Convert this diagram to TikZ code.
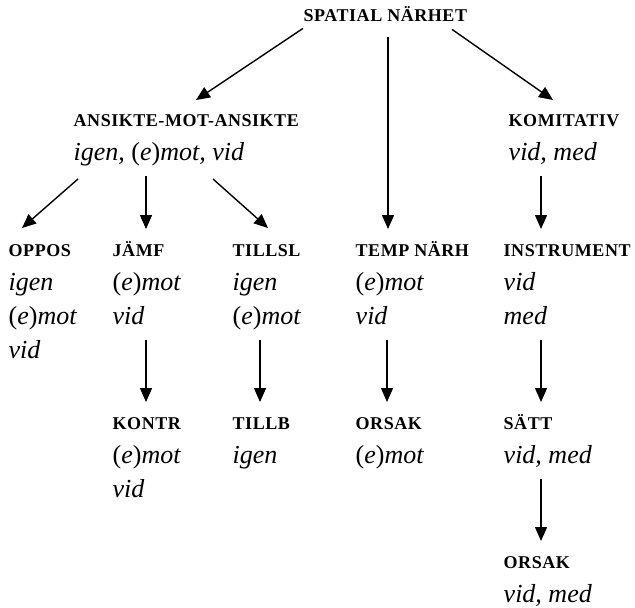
\documentclass[tikz,border=0pt]{standalone}
\usepackage{fontspec}
\setmainfont{Liberation Serif}
\usetikzlibrary{arrows.meta}
\newcommand{\hd}[1]{{\fontsize{9}{17}\selectfont\upshape\bfseries\addfontfeatures{LetterSpace=3}\vphantom{Ä}#1}}
\newcommand{\emot}{\textup{(}e\textup{)}mot}

\begin{document}
\begin{tikzpicture}[x=0.5pt, y=-0.5pt, >={Triangle[length=7pt,width=6pt]}, line width=0.7pt,
	blk/.style={anchor=north west, inner sep=0pt, align=left, text depth=3.5pt, font=\fontsize{13}{17}\selectfont\itshape},
	arr/.style={->, shorten <=4pt, shorten >=6pt}]
	\useasboundingbox (0,0) rectangle (635,607);
	% top
	\node[blk] (spatial) at (303,6) {\hd{SPATIAL NÄRHET}};
	% first row
	\node[blk] (ansikte) at (73,111) {\hd{ANSIKTE-MOT-ANSIKTE}\\ igen, \emot, vid};
	\node[blk] (komit) at (508,111) {\hd{KOMITATIV}\\ vid, med};
	% second row
	\node[blk] (oppos) at (8,241) {\hd{OPPOS}\\ igen\\ \emot\\ vid};
	\node[blk] (jamf) at (112,241) {\hd{JÄMF}\\ \emot\\ vid};
	\node[blk] (tillsl) at (232,241) {\hd{TILLSL}\\ igen\\ \emot};
	\node[blk] (temp) at (355,241) {\hd{TEMP NÄRH}\\ \emot\\ vid};
	\node[blk] (instr) at (503,241) {\hd{INSTRUMENT}\\ vid\\ med};
	% third row
	\node[blk] (kontr) at (112,414) {\hd{KONTR}\\ \emot\\ vid};
	\node[blk] (tillb) at (232,414) {\hd{TILLB}\\ igen};
	\node[blk] (orsak) at (355,414) {\hd{ORSAK}\\ \emot};
	\node[blk] (satt) at (503,414) {\hd{SÄTT}\\ vid, med};
	% last row
	\node[blk] (orsakb) at (503,553) {\hd{ORSAK}\\ vid, med};
	% vertical arrows: source/offset/target/offset (offsets from the west side)
	\foreach \a/\ax/\b/\bx in {spatial/42.5/temp/16.5, ansikte/36.5/jamf/17, komit/16.5/instr/19,
		jamf/17/kontr/17, tillsl/14/tillb/14, temp/16/orsak/16, instr/19/satt/19, satt/19/orsakb/19}
		\draw[arr] ([xshift=\ax pt]\a.south west) -- ([xshift=\bx pt]\b.north west);
	% slanted arrows
	\foreach \a/\ax/\ay/\b/\bx/\by in {spatial/0/0.5/ansikte/61.5/5.5, spatial/74.5/0/komit/22.5/5.5,
		ansikte/2.5/-5.3/oppos/7/6.5, ansikte/70/-5.3/tillsl/18/6.5}
		\draw[->] ([xshift=\ax pt, yshift=\ay pt]\a.south west) -- ([xshift=\bx pt, yshift=\by pt]\b.north west);
\end{tikzpicture}
\end{document}
